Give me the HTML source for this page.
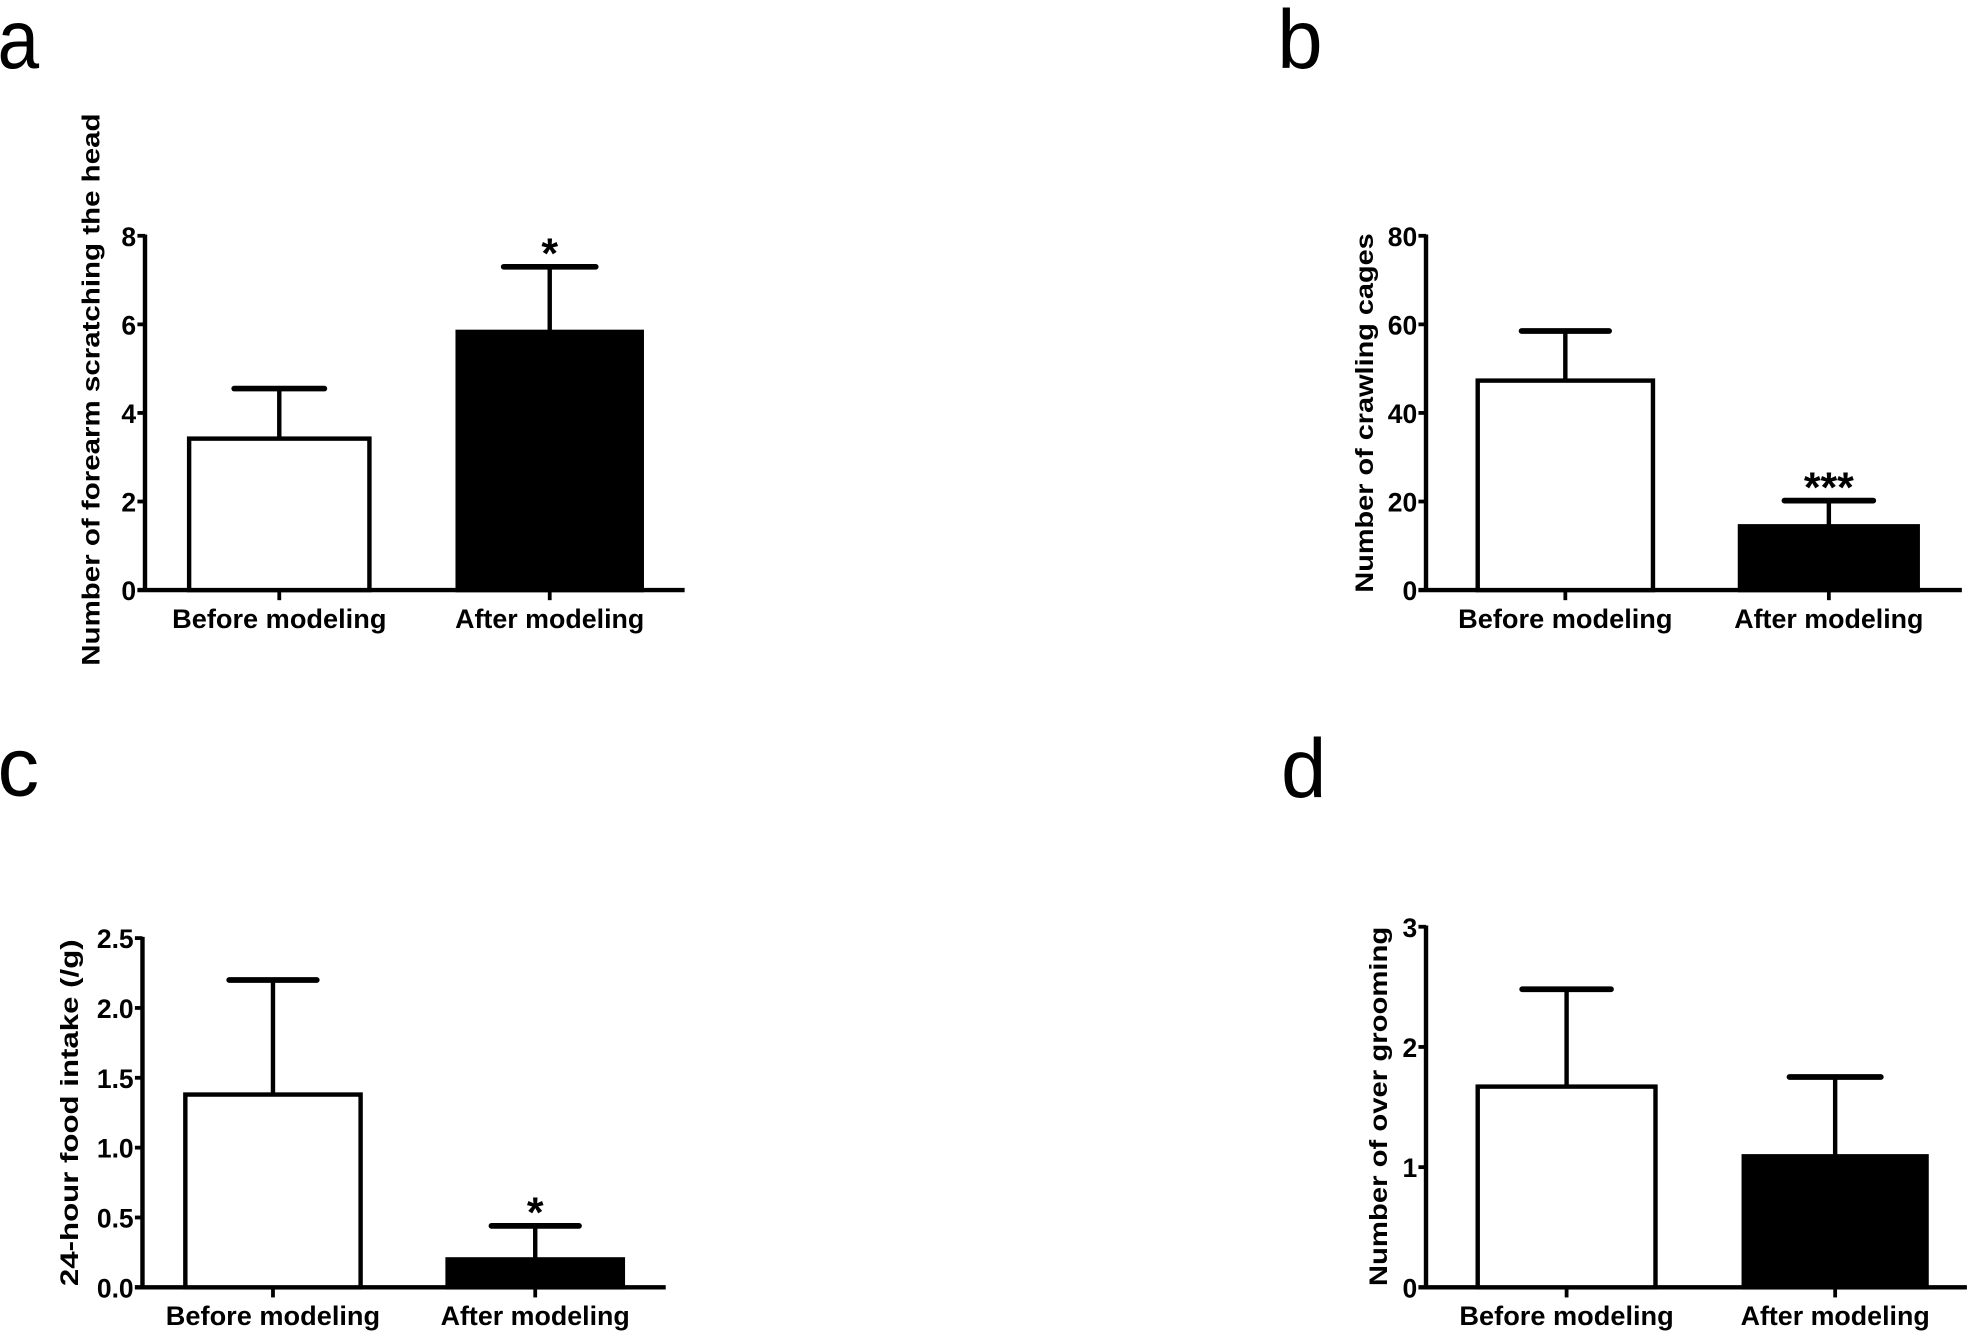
<!DOCTYPE html>
<html><head><meta charset="utf-8"><style>
html,body{margin:0;padding:0;background:#fff;}
svg{display:block;}
text{font-family:"Liberation Sans",sans-serif;fill:#000;}
.tk{font-weight:bold;font-size:21px;}
.cat{font-weight:bold;font-size:21px;}
.yt{font-weight:bold;font-size:20px;}
.pl{font-size:66px;}
</style></head><body>
<svg id="fig" width="1977" height="1334" viewBox="0 0 1568 1058" preserveAspectRatio="none" xmlns="http://www.w3.org/2000/svg">
<text class="pl" x="-2" y="54" textLength="33" lengthAdjust="spacingAndGlyphs">a</text>
<text class="pl" x="1013" y="54" textLength="36" lengthAdjust="spacingAndGlyphs">b</text>
<text class="pl" x="-2" y="631" textLength="33" lengthAdjust="spacingAndGlyphs">c</text>
<text class="pl" x="1016" y="632" textLength="36" lengthAdjust="spacingAndGlyphs">d</text>
</svg>
<script>
var categories = ["Before modeling", "After modeling"];
var aValues = [3.42, 5.83];
var aErrors = [1.13, 1.47];
var aTicks = ["0", "2", "4", "6", "8"];
var aStars = ["", "*"];
var bValues = [47.3, 14.4];
var bErrors = [11.2, 5.8];
var bTicks = ["0", "20", "40", "60", "80"];
var bStars = ["", "***"];
var cValues = [1.38, 0.2];
var cErrors = [0.82, 0.24];
var cTicks = ["0.0", "0.5", "1.0", "1.5", "2.0", "2.5"];
var cStars = ["", "*"];
var dValues = [1.67, 1.09];
var dErrors = [0.81, 0.66];
var dTicks = ["0", "1", "2", "3"];
var dStars = ["", ""];

var NS = "http://www.w3.org/2000/svg";
var svg = document.getElementById("fig");
function mk(tag, attrs, parent) {
  var e = document.createElementNS(NS, tag);
  for (var k in attrs) e.setAttribute(k, attrs[k]);
  (parent || svg).appendChild(e);
  return e;
}
function panel(id, L, values, errors, ticks, stars, title) {
  var g = mk("g", {});
  
  
  var tmin = parseFloat(ticks[0]), tmax = parseFloat(ticks[ticks.length - 1]);
  function y(v) { return L.y0 + (v - tmin) / (tmax - tmin) * (L.yTop - L.y0); }
  var ax = mk("line", {x1: L.ax, y1: L.yTop - 1, x2: L.ax, y2: L.y0, stroke: "#000", "stroke-width": 3.5}, g);
  
  
  var xa = mk("line", {x1: L.ax - 6, y1: L.y0, x2: L.axEnd, y2: L.y0, stroke: "#000", "stroke-width": 3.5}, g);
  
  
  for (var i = 0; i < ticks.length; i++) {
    var ty = y(parseFloat(ticks[i]));
    mk("line", {x1: L.ax - 6, y1: ty, x2: L.ax, y2: ty, stroke: "#000", "stroke-width": 3}, g);
    var t = mk("text", {x: L.ax - 7, y: ty + 8, "text-anchor": "end", "class": "tk"}, g);
    t.textContent = ticks[i];
    
    
  }
  for (var j = 0; j < values.length; j++) {
    var x1 = L.bars[j][0], x2 = L.bars[j][1], cx = (x1 + x2) / 2;
    var top = y(values[j]), et = y(values[j] + errors[j]);
    var cw = (x2 - x1) * 0.25;
    var el = mk("line", {x1: cx, y1: top, x2: cx, y2: et, stroke: "#000", "stroke-width": 3.5}, g);
    
    
    var cap = mk("line", {x1: cx - cw, y1: et, x2: cx + cw, y2: et, stroke: "#000", "stroke-width": 4.5, "stroke-linecap": "round"}, g);
    
    
    var r = mk("rect", {x: x1, y: top, width: x2 - x1, height: L.y0 - top, fill: j ? "#000" : "#fff", stroke: "#000", "stroke-width": 3.5}, g);
    
    
    mk("line", {x1: cx, y1: L.y0, x2: cx, y2: L.y0 + 8, stroke: "#000", "stroke-width": 3}, g);
    var ct = mk("text", {x: cx, y: L.y0 + 30, "text-anchor": "middle", "class": "cat", textLength: j ? 150 : 170, lengthAdjust: "spacingAndGlyphs"}, g);
    ct.textContent = categories[j];
    
    
    if (stars[j]) {
      var s = mk("text", {x: cx, y: et + 1, "text-anchor": "middle", "font-size": 34, "font-weight": "bold"}, g);
      s.textContent = stars[j];
      
      
    }
  }
  var my = (L.tA + L.tB) / 2;
  var yt = mk("text", {x: 0, y: 0, "text-anchor": "middle", "class": "yt", textLength: L.tB - L.tA, lengthAdjust: "spacingAndGlyphs", transform: "translate(" + L.tx + "," + my + ") rotate(-90)"}, g);
  yt.textContent = title;
  
  
}
panel("a", {ax: 115, yTop: 187, y0: 468, axEnd: 543, bars: [[150, 293], [363, 509]], tx: 79, tA: 90, tB: 528}, aValues, aErrors, aTicks, aStars, "Number of forearm scratching the head");
panel("b", {ax: 1131, yTop: 187, y0: 468, axEnd: 1556, bars: [[1172, 1311], [1380, 1521]], tx: 1089, tA: 185, tB: 470}, bValues, bErrors, bTicks, bStars, "Number of crawling cages");
panel("c", {ax: 113, yTop: 744, y0: 1021, axEnd: 528, bars: [[147, 286], [355, 494]], tx: 62, tA: 745, tB: 1020}, cValues, cErrors, cTicks, cStars, "24-hour food intake (/g)");
panel("d", {ax: 1131, yTop: 735, y0: 1021, axEnd: 1560, bars: [[1172, 1313], [1383, 1528]], tx: 1100, tA: 735, tB: 1020}, dValues, dErrors, dTicks, dStars, "Number of over grooming");
</script>
</body></html>
